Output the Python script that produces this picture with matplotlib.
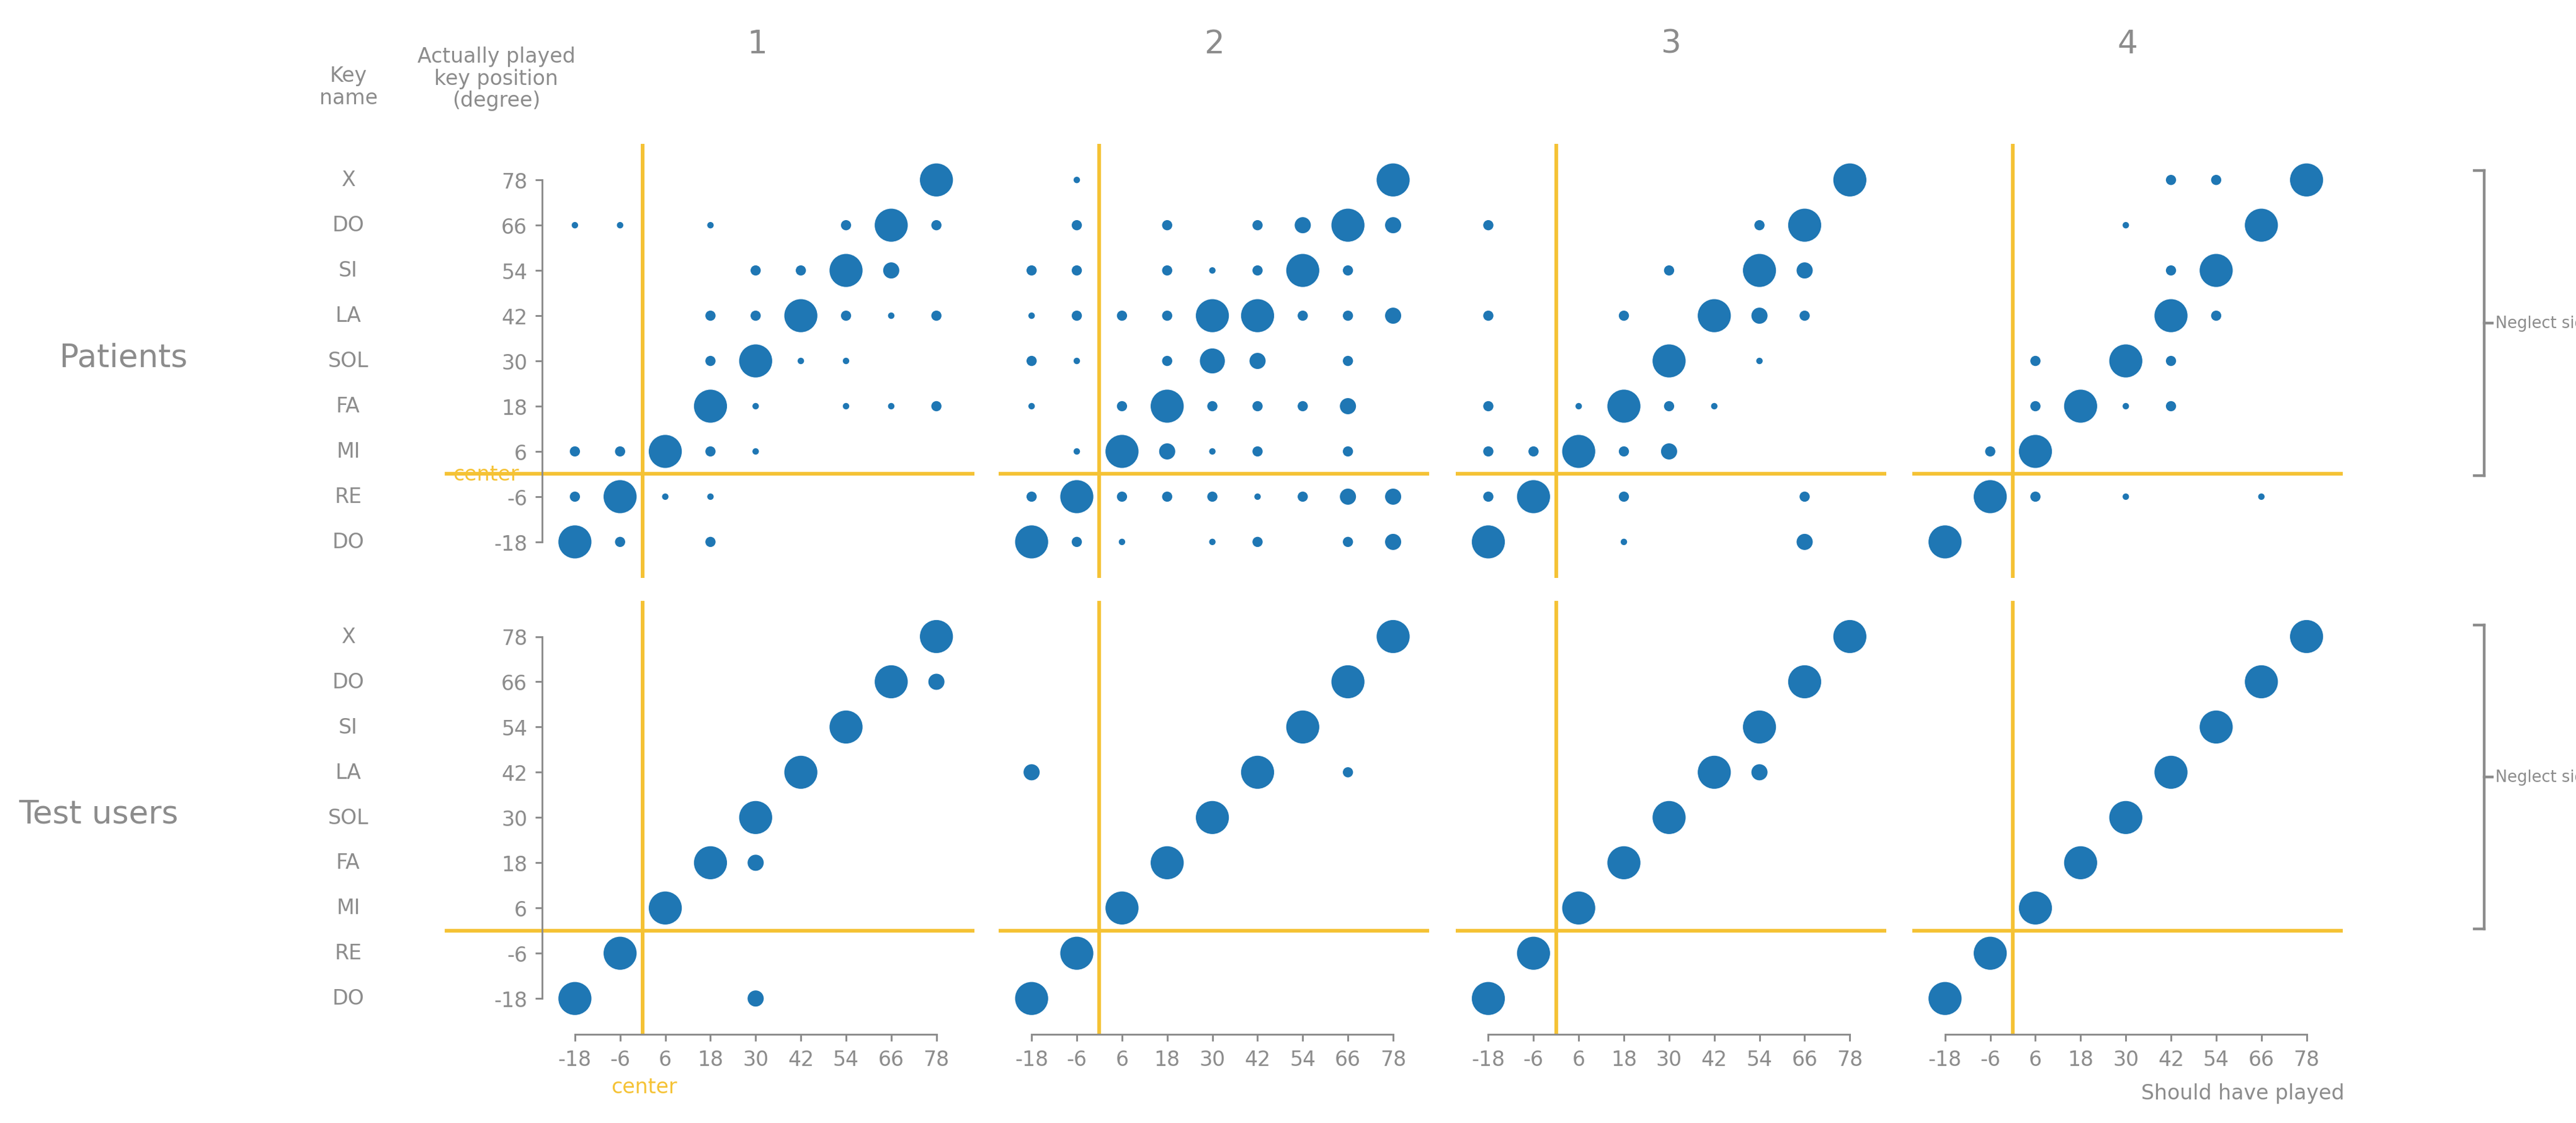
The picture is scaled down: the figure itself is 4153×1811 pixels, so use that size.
import matplotlib
matplotlib.use("Agg")
import matplotlib.pyplot as plt
import matplotlib.transforms as mtrans

positions = [-18, -6, 6, 18, 30, 42, 54, 66, 78]
key_names = ["DO", "RE", "MI", "FA", "SOL", "LA", "SI", "DO", "X"]
panel_titles = ["1", "2", "3", "4"]
row_labels = ["Patients", "Test users"]

# size codes: 1 tiny, 2 small, 3 medium, 4 medium-large, 9 big
# each entry: (should_have_played, actually_played, size)
patients = [
    [(78,78,9),
     (-18,66,1),(-6,66,1),(18,66,1),(54,66,2),(66,66,9),(78,66,2),
     (30,54,2),(42,54,2),(54,54,9),(66,54,3),
     (18,42,2),(30,42,2),(42,42,9),(54,42,2),(66,42,1),(78,42,2),
     (18,30,2),(30,30,9),(42,30,1),(54,30,1),
     (18,18,9),(30,18,1),(54,18,1),(66,18,1),(78,18,2),
     (-18,6,2),(-6,6,2),(6,6,9),(18,6,2),(30,6,1),
     (-18,-6,2),(-6,-6,9),(6,-6,1),(18,-6,1),
     (-18,-18,9),(-6,-18,2),(18,-18,2)],
    [(-6,78,1),(78,78,9),
     (-6,66,2),(18,66,2),(42,66,2),(54,66,3),(66,66,9),(78,66,3),
     (-18,54,2),(-6,54,2),(18,54,2),(30,54,1),(42,54,2),(54,54,9),(66,54,2),
     (-18,42,1),(-6,42,2),(6,42,2),(18,42,2),(30,42,9),(42,42,9),(54,42,2),(66,42,2),(78,42,3),
     (-18,30,2),(-6,30,1),(18,30,2),(30,30,4),(42,30,3),(66,30,2),
     (-18,18,1),(6,18,2),(18,18,9),(30,18,2),(42,18,2),(54,18,2),(66,18,3),
     (-6,6,1),(6,6,9),(18,6,3),(30,6,1),(42,6,2),(66,6,2),
     (-18,-6,2),(-6,-6,9),(6,-6,2),(18,-6,2),(30,-6,2),(42,-6,1),(54,-6,2),(66,-6,3),(78,-6,3),
     (-18,-18,9),(-6,-18,2),(6,-18,1),(30,-18,1),(42,-18,2),(66,-18,2),(78,-18,3)],
    [(78,78,9),
     (-18,66,2),(54,66,2),(66,66,9),
     (30,54,2),(54,54,9),(66,54,3),
     (-18,42,2),(18,42,2),(42,42,9),(54,42,3),(66,42,2),
     (30,30,9),(54,30,1),
     (-18,18,2),(6,18,1),(18,18,9),(30,18,2),(42,18,1),
     (-18,6,2),(-6,6,2),(6,6,9),(18,6,2),(30,6,3),
     (-18,-6,2),(-6,-6,9),(18,-6,2),(66,-6,2),
     (-18,-18,9),(18,-18,1),(66,-18,3)],
    [(42,78,2),(54,78,2),(78,78,9),
     (30,66,1),(66,66,9),
     (42,54,2),(54,54,9),
     (42,42,9),(54,42,2),
     (6,30,2),(30,30,9),(42,30,2),
     (6,18,2),(18,18,9),(30,18,1),(42,18,2),
     (-6,6,2),(6,6,9),
     (-6,-6,9),(6,-6,2),(30,-6,1),(66,-6,1),
     (-18,-18,9)],
]
diag = [(p, p, 9) for p in positions]
test_users = [
    diag + [(78,66,3),(30,18,3),(30,-18,3)],
    diag + [(-18,42,3),(66,42,2)],
    diag + [(54,42,3)],
    diag,
]

size_map = {1: 8, 2: 20, 3: 50, 4: 120, 9: 210}
blue = "#1f77b4"
gray = "#8c8c8c"
yellow = "#f5c234"

W, H = 1568.0, 684.0
fig = plt.figure(figsize=(W/100, H/100), dpi=100*4153/1568)

def fx(x): return x / W
def fy(y): return 1 - y / H

ax_w = 262 / W
step = 278 / W
rows_y = [(88, 352), (366, 630)]
for r, data in enumerate([patients, test_users]):
    top, bot = rows_y[r]
    for c in range(4):
        ax = fig.add_axes([fx(330) + c * step, fy(bot), ax_w, (bot - top) / H])
        pts = data[c]
        ax.scatter([p[0] for p in pts], [p[1] for p in pts],
                   s=[size_map[p[2]] for p in pts], color=blue, linewidths=0, zorder=3)
        ax.set_xlim(-26.7, 87.6)
        ax.set_ylim(-27.5, 87.5)
        ax.axvline(0, color=yellow, lw=1.6, zorder=1)
        if c == 0:
            ax.plot([-52, 87.6], [0, 0], color=yellow, lw=1.6, zorder=1, clip_on=False)
        else:
            ax.axhline(0, color=yellow, lw=1.6, zorder=1)
        for s in ["top", "right", "left", "bottom"]:
            ax.spines[s].set_visible(False)
        ax.set_xticks([]); ax.set_yticks([])
        if c == 0:
            ax.spines["left"].set_visible(True)
            ax.spines["left"].set_color(gray)
            ax.spines["left"].set_bounds(-18, 78)
            ax.set_yticks(positions)
            ax.set_yticklabels([str(p) for p in positions])
            ax.tick_params(axis="y", colors=gray, labelsize=9, length=3)
            tr = mtrans.blended_transform_factory(fig.transFigure, ax.transData)
            for p, k in zip(positions, key_names):
                ax.text(fx(212), p, k, color=gray, fontsize=9, ha="center", va="center",
                        transform=tr, clip_on=False)
        if r == 1:
            ax.spines["bottom"].set_visible(True)
            ax.spines["bottom"].set_color(gray)
            ax.spines["bottom"].set_bounds(-18, 78)
            ax.set_xticks(positions)
            ax.set_xticklabels([str(p) for p in positions])
            ax.tick_params(axis="x", colors=gray, labelsize=9, length=3)
        if r == 0:
            ax.set_title(panel_titles[c], color=gray, fontsize=14, pad=40)

fig.text(fx(75), fy(218), row_labels[0], color=gray, fontsize=14, ha="center", va="center")
fig.text(fx(60), fy(496), row_labels[1], color=gray, fontsize=14, ha="center", va="center")
fig.text(fx(212), fy(53), "Key\nname", color=gray, fontsize=9, ha="center", va="center", linespacing=1.1)
fig.text(fx(302), fy(48), "Actually played\nkey position\n(degree)", color=gray, fontsize=9,
         ha="center", va="center", linespacing=1.1)
fig.text(fx(316), fy(289), "center", color=yellow, fontsize=9, ha="right", va="center")
fig.text(fx(392), fy(662), "center", color=yellow, fontsize=9, ha="center", va="center")
fig.text(fx(1427), fy(666), "Should have played", color=gray, fontsize=9, ha="right", va="center")

for (y0, y1) in [(104, 290), (381, 566)]:
    fig.add_artist(plt.Line2D([fx(1512)] * 2, [fy(y0), fy(y1)], color=gray, lw=1.2))
    for yy in (y0, y1):
        fig.add_artist(plt.Line2D([fx(1506), fx(1512)], [fy(yy)] * 2, color=gray, lw=1.2))
    fig.add_artist(plt.Line2D([fx(1512), fx(1517)], [fy((y0 + y1) / 2)] * 2, color=gray, lw=1.2))
    fig.text(fx(1519), fy((y0 + y1) / 2), "Neglect side", color=gray, fontsize=7, ha="left", va="center")

fig.savefig("out.png")
